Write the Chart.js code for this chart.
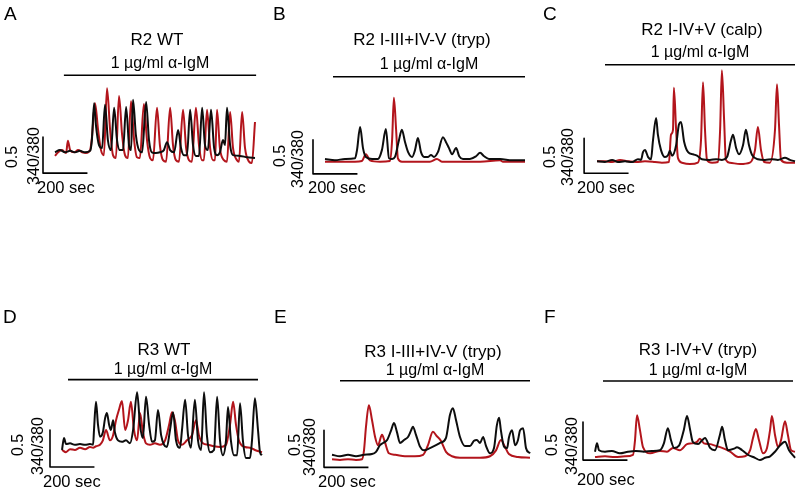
<!DOCTYPE html>
<html><head><meta charset="utf-8">
<script src="https://cdn.jsdelivr.net/npm/chart.js@4.4.0/dist/chart.umd.min.js"></script>
<style>
html,body{margin:0;padding:0;background:#fff;width:800px;height:489px;overflow:hidden;position:relative}
canvas{position:absolute}
</style></head><body>
<canvas id="cA"></canvas><canvas id="cB"></canvas><canvas id="cC"></canvas>
<canvas id="cD"></canvas><canvas id="cE"></canvas><canvas id="cF"></canvas>
<script>
// ---------- DATA ----------
const panelLetters = ['A','B','C','D','E','F'];
const panelTitles = ['R2 WT','R2 I-III+IV-V (tryp)','R2 I-IV+V (calp)','R3 WT','R3 I-III+IV-V (tryp)','R3 I-IV+V (tryp)'];
const stimulusLabel = '1 µg/ml α-IgM';
const stimTimes = [[40,905],[36,900],[36,891],[27,882],[36,891],[36,891]]; // seconds
const scaleTime = 200, scaleTimeLabel = '200 sec';
const scaleRatio = 0.5, scaleRatioLabel = '0.5', ratioLabel = '340/380';

// traces: [time (s), 340/380 ratio]
const A_black = [[0,1.01],[22,1.04],[45,1.01],[68,1.03],[90,1.01],[112,1.03],[135,1.01],[158,1.03],[166,1.18],[176,1.69],[184,1.39],[198,1.11],[212,1.07],[225,1.67],[238,1.18],[252,1.04],[266,1.63],[279,1.18],[292,1.04],[306,1.04],[320,1.64],[333,1.11],[342,1.04],[351,1.74],[364,1.25],[378,1.04],[392,1.01],[410,1.71],[423,1.18],[436,1.01],[454,1.00],[472,1.01],[490,1.04],[504,1.15],[518,1.04],[536,1.01],[554,1.32],[567,1.07],[580,0.97],[594,0.97],[608,1.60],[621,1.11],[634,0.96],[648,0.96],[662,1.63],[675,1.11],[688,1.04],[702,1.60],[716,1.07],[729,0.97],[742,1.01],[756,1.18],[765,1.11],[774,1.63],[788,1.11],[801,0.97],[832,0.96],[864,0.94],[900,0.93]];
const A_red = [[0,0.96],[14,1.01],[32,1.04],[50,1.00],[58,1.17],[68,1.04],[86,1.01],[104,1.04],[122,1.01],[140,1.00],[158,1.04],[166,1.21],[180,1.69],[194,1.32],[207,1.04],[220,0.97],[234,1.90],[248,1.32],[261,0.97],[274,0.93],[288,1.79],[302,1.25],[315,0.97],[328,0.93],[342,1.72],[356,1.18],[369,0.94],[382,0.93],[400,1.68],[414,1.18],[428,0.93],[441,0.90],[459,1.63],[472,1.11],[486,0.90],[500,0.88],[518,1.63],[531,1.11],[544,0.90],[558,0.88],[576,1.60],[590,1.07],[603,0.90],[616,0.88],[634,1.63],[648,1.11],[662,0.90],[670,0.90],[684,1.60],[698,1.07],[711,0.90],[720,0.90],[729,1.60],[742,1.07],[760,0.90],[774,0.88],[788,1.57],[801,1.07],[819,0.90],[828,0.88],[842,1.57],[855,1.07],[873,0.88],[886,0.86],[900,1.43]];

const B_black = [[0,1.03],[45,1.01],[90,1.03],[135,1.04],[144,1.16],[158,1.50],[171,1.19],[184,1.06],[212,1.03],[238,1.03],[256,1.16],[274,1.47],[288,1.04],[302,1.03],[315,1.06],[333,1.31],[346,1.46],[360,1.28],[374,1.13],[392,1.06],[405,1.16],[418,1.34],[432,1.13],[446,1.06],[464,1.06],[477,1.09],[490,1.06],[508,1.13],[531,1.35],[544,1.28],[558,1.19],[572,1.10],[590,1.19],[604,1.07],[621,1.03],[652,1.03],[680,1.07],[698,1.12],[716,1.07],[738,1.03],[788,1.03],[842,1.01],[900,1.01]];
const B_red = [[0,0.99],[68,0.99],[135,0.99],[166,1.00],[184,1.10],[202,1.01],[248,0.99],[292,1.00],[302,1.31],[310,1.93],[320,1.46],[328,1.04],[346,0.99],[405,0.99],[472,0.99],[504,1.03],[526,0.99],[608,0.99],[698,0.99],[788,1.01],[801,0.99],[900,0.99]];

const C_black = [[0,1.01],[36,1.00],[68,1.03],[94,1.00],[126,1.01],[158,1.00],[184,1.04],[198,1.03],[207,1.14],[216,1.17],[230,1.07],[243,1.04],[252,1.31],[266,1.63],[274,1.39],[288,1.17],[306,1.07],[320,1.10],[328,1.16],[338,1.09],[356,1.24],[369,1.54],[378,1.57],[392,1.29],[410,1.14],[432,1.11],[450,1.09],[472,1.04],[508,1.03],[536,1.04],[562,1.03],[585,1.07],[603,1.31],[612,1.39],[626,1.20],[639,1.11],[657,1.24],[670,1.46],[684,1.24],[698,1.10],[724,1.04],[756,1.03],[788,1.04],[814,1.03],[846,1.06],[868,1.03],[891,1.01]];
const C_red = [[0,1.01],[36,1.01],[68,1.00],[104,1.03],[140,1.01],[176,1.00],[216,1.01],[261,1.00],[292,0.99],[324,1.00],[333,1.39],[342,1.46],[346,2.06],[356,1.46],[364,1.06],[382,0.99],[418,0.97],[454,0.99],[468,1.31],[477,2.14],[486,1.46],[495,1.03],[518,0.99],[544,1.00],[554,1.46],[562,2.31],[572,1.60],[580,1.03],[598,0.99],[644,0.97],[688,0.99],[711,1.17],[724,1.50],[738,1.17],[752,1.00],[778,0.99],[801,1.46],[810,2.11],[819,1.53],[828,1.03],[855,0.99],[891,0.99]];

const D_black = [[0,0.96],[9,1.12],[18,1.04],[36,1.05],[58,1.03],[81,1.04],[104,1.03],[126,1.04],[140,1.03],[144,1.23],[153,1.61],[162,1.30],[171,1.14],[184,1.20],[194,1.39],[202,1.46],[212,1.30],[220,1.23],[230,1.36],[238,1.20],[252,1.09],[270,1.07],[288,1.09],[306,1.05],[320,1.23],[338,1.74],[351,1.30],[364,1.12],[378,1.68],[392,1.30],[405,1.07],[418,1.09],[432,1.50],[446,1.16],[459,1.03],[472,1.00],[486,1.23],[500,1.47],[513,1.09],[531,0.99],[540,1.23],[554,1.64],[567,1.16],[580,0.99],[598,1.64],[612,1.09],[626,0.96],[639,1.74],[652,1.16],[666,0.93],[684,0.96],[698,1.68],[711,1.09],[724,0.89],[738,1.09],[747,1.54],[760,1.09],[774,0.89],[788,0.89],[801,1.59],[814,1.09],[828,0.85],[846,0.85],[855,1.09],[868,1.66],[882,1.23],[891,0.93],[900,0.89]];
const D_red = [[0,0.96],[18,0.93],[36,0.97],[58,0.96],[81,0.99],[104,0.97],[126,1.00],[140,0.99],[153,1.01],[171,1.03],[184,1.09],[198,1.23],[216,1.09],[230,1.16],[243,1.36],[256,1.50],[270,1.62],[284,1.23],[297,1.36],[310,1.61],[324,1.23],[338,1.09],[351,1.46],[364,1.20],[378,1.05],[396,1.03],[418,1.05],[441,1.03],[464,1.09],[482,1.30],[495,1.47],[508,1.36],[522,1.09],[540,1.03],[562,1.09],[585,1.16],[603,1.36],[616,1.16],[634,1.05],[657,1.03],[684,1.01],[711,1.00],[738,1.03],[756,1.30],[770,1.61],[783,1.30],[796,1.09],[824,1.00],[846,0.99],[868,0.96],[900,0.93]];

const E_black = [[0,1.03],[36,1.01],[72,1.03],[108,1.01],[144,1.03],[180,1.04],[198,1.07],[216,1.16],[230,1.19],[248,1.23],[266,1.36],[279,1.46],[292,1.34],[306,1.19],[324,1.23],[342,1.27],[356,1.36],[364,1.41],[378,1.30],[396,1.14],[414,1.09],[441,1.12],[468,1.16],[486,1.19],[513,1.26],[531,1.57],[544,1.66],[558,1.50],[576,1.27],[598,1.15],[621,1.15],[639,1.22],[652,1.23],[666,1.19],[680,1.27],[693,1.15],[711,1.05],[729,1.12],[742,1.43],[752,1.53],[760,1.36],[774,1.14],[788,1.12],[796,1.26],[810,1.36],[824,1.16],[837,1.23],[846,1.36],[860,1.39],[873,1.12],[891,1.05]];
const E_red = [[0,0.97],[36,0.96],[72,0.97],[108,0.96],[135,0.97],[144,1.09],[153,1.41],[166,1.70],[180,1.50],[194,1.27],[207,1.16],[225,1.30],[238,1.20],[256,1.05],[284,1.03],[328,1.01],[373,1.01],[410,1.03],[432,1.16],[454,1.34],[472,1.28],[490,1.22],[513,1.07],[540,1.01],[576,0.99],[621,0.99],[666,0.99],[711,1.01],[738,1.09],[760,1.23],[778,1.14],[796,1.04],[837,1.00],[891,0.99]];

const F_black = [[0,1.03],[9,1.14],[18,1.05],[45,1.03],[76,1.04],[112,1.01],[148,1.03],[184,1.04],[220,1.03],[256,1.04],[292,1.05],[310,1.14],[328,1.34],[342,1.18],[356,1.08],[378,1.11],[400,1.32],[414,1.50],[428,1.32],[440,1.16],[464,1.13],[482,1.18],[495,1.21],[518,1.08],[540,1.05],[562,1.25],[572,1.36],[585,1.18],[598,1.05],[626,1.07],[639,1.09],[662,1.05],[688,0.99],[720,0.95],[742,0.92],[765,0.95],[788,0.97],[810,1.03],[832,1.11],[855,1.16],[873,1.05],[900,0.95]];
const F_red = [[0,0.96],[45,0.97],[90,0.96],[135,0.97],[171,0.99],[180,1.18],[189,1.51],[202,1.32],[216,1.09],[248,1.01],[292,1.04],[324,1.03],[351,1.08],[382,1.05],[414,1.13],[436,1.14],[459,1.16],[472,1.20],[490,1.14],[518,1.13],[540,1.11],[572,1.08],[608,1.03],[644,0.96],[675,0.97],[698,1.05],[711,1.21],[724,1.33],[738,1.18],[756,1.01],[774,1.08],[788,1.32],[796,1.50],[810,1.25],[824,1.09],[837,1.18],[855,1.43],[868,1.25],[882,1.05],[900,1.03]];

const blackTraces = [A_black,B_black,C_black,D_black,E_black,F_black];
const redTraces = [A_red,B_red,C_red,D_red,E_red,F_red];

// ---------- LAYOUT (page pixels) ----------
const SEC_PER_PX = 4.5;
const layout = [
 {id:'cA',box:[0,0,267,245],origin:[55,153],k:72,stimY:2.08,bar:[-54,0.72],letter:[4,20],sec:[37,193],ratio:[38.5,156],half:[16.5,157],titleDy:-30,subDy:-7,titleDx:-3},
 {id:'cB',box:[267,0,266,245],origin:[325,161],k:68,stimY:2.24,bar:[-54,0.81],letter:[273,20],sec:[308,193],ratio:[303,159],half:[285,156],titleDy:-32,subDy:-8,titleDx:-7},
 {id:'cC',box:[533,0,267,245],origin:[597,162],k:70,stimY:2.39,bar:[-58,0.84],letter:[543,20],sec:[577,193],ratio:[573,157],half:[554.5,157],titleDy:-30,subDy:-8,titleDx:2},
 {id:'cD',box:[0,245,267,244],origin:[62,447],k:74,stimY:1.91,bar:[-54,0.73],letter:[3,323],sec:[43,487],ratio:[43,446],half:[23,445],titleDy:-25,subDy:-6,titleDx:1},
 {id:'cE',box:[267,245,266,244],origin:[332,457],k:74,stimY:2.03,bar:[-36,0.86],letter:[274,323],sec:[318,487],ratio:[314.5,447],half:[299.5,445],titleDy:-24,subDy:-6,titleDx:-2},
 {id:'cF',box:[533,245,267,244],origin:[595,454],k:76,stimY:1.96,bar:[-54,0.92],letter:[544,323],sec:[577,485],ratio:[576.5,446],half:[556.5,445],titleDy:-26,subDy:-6,titleDx:0}
];
const FONT = "'Liberation Sans', Arial, Helvetica, sans-serif";
const RED = '#b3151c', BLACK = '#0d0d0d';

const toXY = arr => arr.map(p => ({x:p[0], y:p[1]}));

layout.forEach((L, i) => {
  const [bx, by, bw, bh] = L.box;
  const cv = document.getElementById(L.id);
  cv.width = bw; cv.height = bh;
  cv.style.left = bx + 'px'; cv.style.top = by + 'px';
  cv.style.width = bw + 'px'; cv.style.height = bh + 'px';
  const xmin = (bx - L.origin[0]) * SEC_PER_PX, xmax = (bx + bw - L.origin[0]) * SEC_PER_PX;
  const ymax = 1 + (L.origin[1] - by) / L.k, ymin = 1 + (L.origin[1] - (by + bh)) / L.k;
  const st = stimTimes[i];
  const [sx, sy] = L.bar;

  const textPlugin = {
    id: 'panelText' + i,
    afterDatasetsDraw(chart) {
      const ctx = chart.ctx;
      const xs = chart.scales.x, ys = chart.scales.y;
      ctx.save();
      ctx.translate(-bx, -by);
      ctx.fillStyle = '#000';
      ctx.textBaseline = 'alphabetic';
      ctx.font = '19px ' + FONT; ctx.textAlign = 'left';
      ctx.fillText(panelLetters[i], L.letter[0], L.letter[1]);
      const cx = (xs.getPixelForValue(st[0]) + xs.getPixelForValue(st[1])) / 2 + bx;
      const barY = ys.getPixelForValue(L.stimY) + by;
      ctx.textAlign = 'center';
      ctx.font = '17px ' + FONT;
      ctx.fillText(panelTitles[i], cx + L.titleDx, barY + L.titleDy);
      ctx.font = '16px ' + FONT;
      ctx.fillText(stimulusLabel, cx, barY + L.subDy);
      ctx.textAlign = 'left';
      ctx.font = '16.5px ' + FONT;
      ctx.fillText(scaleTimeLabel, L.sec[0], L.sec[1]);
      ctx.font = '16px ' + FONT;
      ctx.textAlign = 'center';
      ctx.save(); ctx.translate(L.ratio[0], L.ratio[1]); ctx.rotate(-Math.PI/2);
      ctx.fillText(ratioLabel, 0, 0); ctx.restore();
      ctx.save(); ctx.translate(L.half[0], L.half[1]); ctx.rotate(-Math.PI/2);
      ctx.fillText(scaleRatioLabel, 0, 0); ctx.restore();
      ctx.restore();
    }
  };

  new Chart(cv, {
    type: 'line',
    data: {
      datasets: [
        {label:'black', data: toXY(blackTraces[i]), borderColor: BLACK, borderWidth: 2, pointRadius: 0, cubicInterpolationMode: 'monotone', fill: false},
        {label:'red', data: toXY(redTraces[i]), borderColor: RED, borderWidth: 2, pointRadius: 0, cubicInterpolationMode: 'monotone', fill: false},
        {label:'stimulus', data: [{x: st[0], y: L.stimY}, {x: st[1], y: L.stimY}], borderColor: '#000', borderWidth: 1.6, pointRadius: 0},
        {label:'scale', data: [{x: sx, y: sy + scaleRatio}, {x: sx, y: sy}, {x: sx + scaleTime, y: sy}], borderColor: '#000', borderWidth: 1.6, pointRadius: 0}
      ]
    },
    options: {
      responsive: false, animation: false, devicePixelRatio: 1,
      layout: {padding: 0},
      plugins: {legend: {display: false}, tooltip: {enabled: false}, title: {display: false}},
      scales: {
        x: {type: 'linear', min: xmin, max: xmax, display: false},
        y: {type: 'linear', min: ymin, max: ymax, display: false}
      },
      elements: {line: {borderJoinStyle: 'round', borderCapStyle: 'butt'}}
    },
    plugins: [textPlugin]
  });
});
</script>
</body></html>
